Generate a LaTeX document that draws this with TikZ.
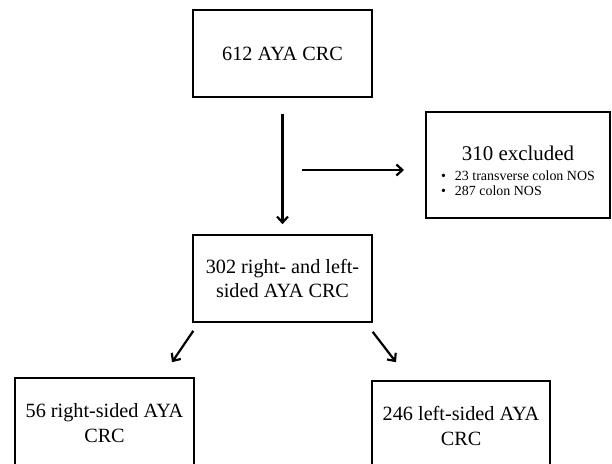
\documentclass[tikz,border=0pt]{standalone}
\usepackage{fontspec}
\setmainfont{Liberation Serif}
\usepackage{tikz}
\usetikzlibrary{arrows.meta}

\begin{document}
\begin{tikzpicture}[x=1bp,y=-1bp,
   every node/.style={font=\fontsize{20.3}{24.5}\selectfont},
   box/.style={draw,line width=2pt,rectangle,align=center,inner sep=0pt,
      minimum width=179,minimum height=87},
   arr/.style={line width=2.2pt,-{Straight Barb[length=6pt,width=11pt,line width=2.2pt]}}]
\useasboundingbox (0,0) rectangle (612,464);
\node[box] (total) at (282.5,53.5) {612 AYA CRC};
\node[box] (sided) at (282.5,278.5) {302 right- and left-\\sided AYA CRC};
\node[box,minimum width=184,minimum height=106] (excl) at (518,165)
   {{\fontsize{21}{23}\selectfont\rule{0pt}{31pt}310 excluded}\\[4pt]
    {\fontsize{14}{15}\selectfont\begin{tabular}{@{}l@{}}
      \textbullet\hspace{9pt}23 transverse colon NOS\\
      \textbullet\hspace{9pt}287 colon NOS
    \end{tabular}}};
\node[box,minimum height=90] (right) at (104.5,423) {56 right-sided AYA\\CRC};
\node[box,minimum height=90] (left) at (461,426) {246 left-sided AYA\\CRC};
% connectors
\coordinate (split) at (302,170);
\coordinate (exclin) at (404,170);
\draw[arr] ([shift={(0,16)}]total.south) -- ([shift={(0,-10)}]sided.north);
\draw[arr] (split) -- (exclin);
\draw[arr] ([shift={(1,8)}]sided.south west) -- ([shift={(67.5,-15)}]right.north);
\draw[arr] ([shift={(0,9)}]sided.south east) -- ([shift={(-65,-18)}]left.north);
\end{tikzpicture}
\end{document}
